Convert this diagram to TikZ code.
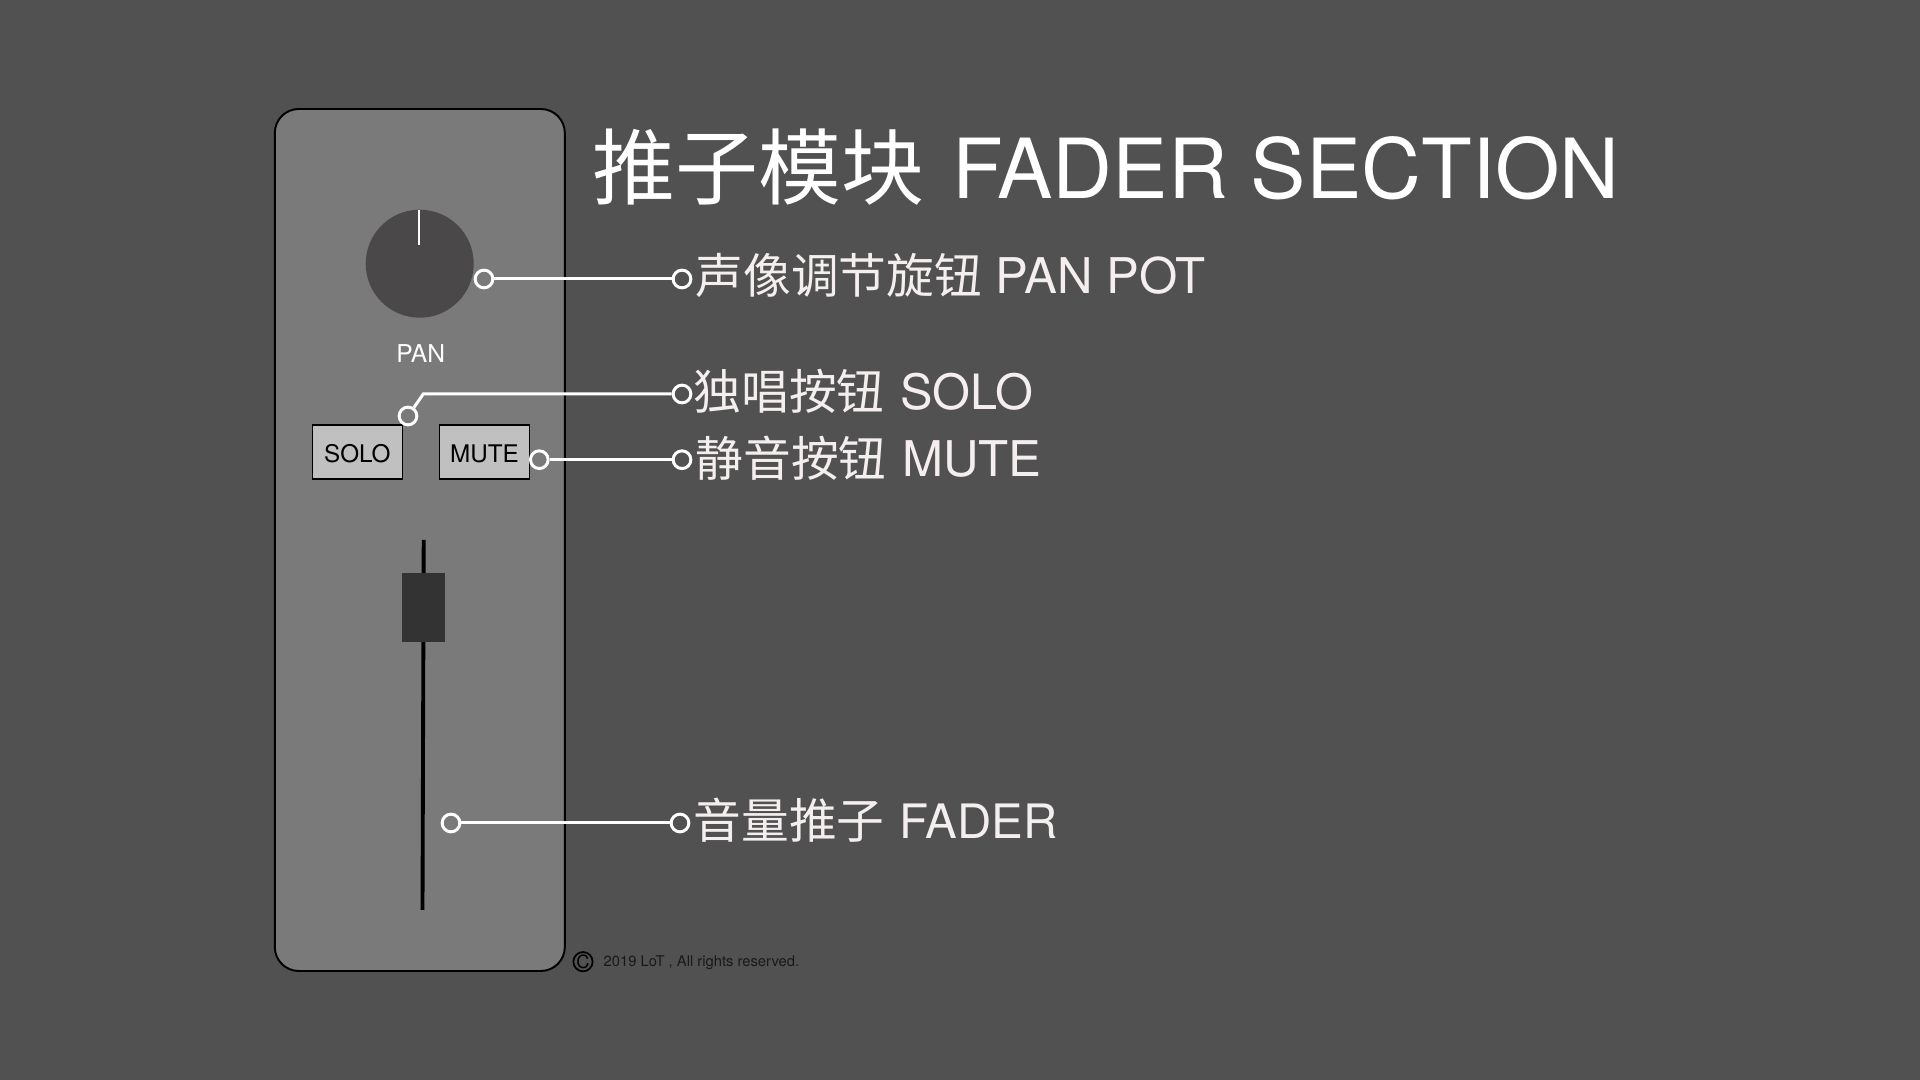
\documentclass[tikz,border=0pt]{standalone}
\usepackage{fontspec}
\setmainfont{TeX Gyre Heros}
\newfontfamily\cjk{Noto Sans CJK SC}
\newfontfamily\cjkcap[Scale=0.97]{Noto Sans CJK SC}
\usetikzlibrary{positioning}
\definecolor{bgcol}{HTML}{515151}
\definecolor{panelcol}{HTML}{7A7A7A}
\definecolor{knobcol}{HTML}{4A4848}
\definecolor{btncol}{HTML}{C0C0C0}
\definecolor{capcol}{HTML}{F5EEEE}
\tikzset{
	dot/.style={circle, draw=white, line width=0.85pt, inner sep=0pt, minimum size=0.177cm},
	lead/.style={draw=white, line width=0.85pt},
	btn/.style={draw=black, line width=0.3pt, fill=btncol, inner sep=0pt, minimum width=0.9cm, minimum height=0.54cm, text height=5.7pt, text depth=0pt, font=\fontsize{6.9}{8}\selectfont},
	caption/.style={anchor=base west, inner sep=0pt, text=capcol, font=\fontsize{14}{16}\selectfont}
}
\begin{document}
\begin{tikzpicture}
	\useasboundingbox [fill=bgcol] (0, 0) rectangle (19.2, 10.8);
	\node [draw=black, line width=0.55pt, fill=panelcol, rounded corners=0.24cm, inner sep=0pt, minimum width=2.9cm, minimum height=8.62cm] (panel) at (4.198, 5.4) {};
	\node [circle, fill=knobcol, inner sep=0pt, minimum size=1.08cm] (knob) at (4.197, 8.163) {};
	\coordinate (tickT) at (4.19, 8.7);
	\coordinate (tickB) at (4.19, 8.35);
	\draw [white, line width=0.35pt] (tickT) -- (tickB);
	\node [anchor=base, inner sep=0pt, text=white, font=\fontsize{7}{8}\selectfont] (pan) at (4.207, 7.17) {PAN};
	\node [btn] (solo) at (3.573, 6.28) {SOLO};
	\node [btn] (mute) at (4.845, 6.28) {MUTE};
	\coordinate (trackT) at (4.237, 5.4);
	\coordinate (trackB) at (4.225, 1.7);
	\draw [black, line width=1.1pt] (trackT) -- (trackB);
	\node [fill=black!80, inner sep=0pt, minimum width=0.43cm, minimum height=0.69cm] (handle) at (4.23, 4.727) {};
	\node [dot] (panA) at (4.84, 8.01) {};
	\node [dot] (panB) at (6.82, 8.01) {};
	\node [dot] (soloA) at (4.08, 6.64) {};
	\coordinate (soloC) at (4.233, 6.86);
	\node [dot] (soloB) at (6.82, 6.86) {};
	\node [dot] (muteA) at (5.393, 6.203) {};
	\node [dot] (muteB) at (6.82, 6.203) {};
	\node [dot] (faderA) at (4.51, 2.57) {};
	\node [dot] (faderB) at (6.8, 2.57) {};
	\draw [lead] (panA) -- (panB);
	\draw [lead] (soloA) -- (soloC) -- (soloB);
	\draw [lead] (muteA) -- (muteB);
	\draw [lead] (faderA) -- (faderB);
	\node [anchor=base west, inner sep=0pt, text=white, font=\fontsize{23.6}{28}\selectfont] (title) at (5.92, 8.81) {{\cjk 推子模块}\hspace{0.05cm} FADER SECTION};
	\node [caption] (capPan) at (6.95, 7.86) {{\cjkcap 声像调节旋钮} PAN POT};
	\node [caption, font=\fontsize{13.85}{16}\selectfont] (capSolo) at (6.93, 6.7) {{\cjkcap\fontsize{14}{16}\selectfont 独唱按钮}\hspace{0.02cm} SOLO};
	\node [caption] (capMute) at (6.95, 6.035) {{\cjkcap 静音按钮}\hspace{0.02cm} MUTE};
	\node [caption, font=\fontsize{13.5}{16}\selectfont] (capFader) at (6.93, 2.41) {{\cjkcap\fontsize{14}{16}\selectfont 音量推子}\hspace{0.02cm} FADER};
	\node [circle, draw=black, line width=0.5pt, inner sep=0pt, minimum size=0.18cm, font=\fontsize{5.2}{6}\selectfont] (copy) at (5.83, 1.183) {C};
	\node [anchor=base west, inner sep=0pt, text=black!90, font=\fontsize{4.2}{5}\selectfont] (rights) at (6.03, 1.13) {2019 LoT , All rights reserved.};
\end{tikzpicture}
\end{document}
